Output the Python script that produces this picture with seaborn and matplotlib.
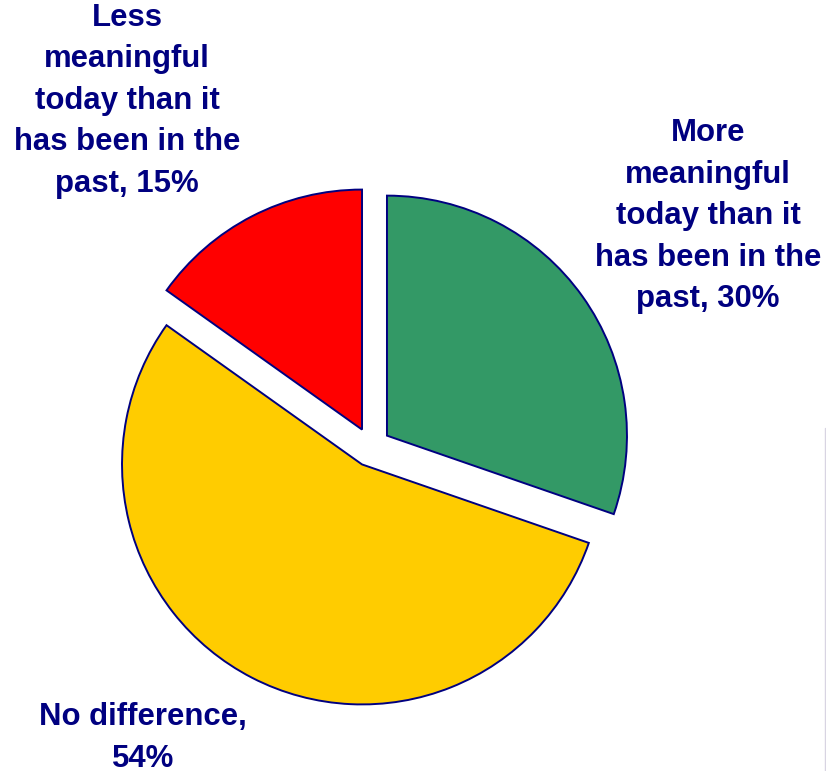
import matplotlib
matplotlib.use("Agg")
import matplotlib.pyplot as plt
import seaborn as sns
from matplotlib.lines import Line2D

sns.set_theme(style="white")
plt.rcParams['font.family'] = ['Liberation Sans', 'DejaVu Sans']

categories = [
    "More\nmeaningful\ntoday than it\nhas been in the\npast, 30%",
    "No difference,\n54%",
    "Less\nmeaningful\ntoday than it\nhas been in the\npast, 15%",
]
values = [30, 54, 15]
colors = ["#339966", "#FFCC00", "#FF0000"]

W, H = 826, 771
fig = plt.figure(figsize=(W / 100, H / 100), dpi=100)
ax = fig.add_axes([0, 0, 1, 1])

ax.pie(values, colors=colors, startangle=90, counterclock=False,
       center=(371, H - 447), radius=240, explode=[19.6] * 3,
       wedgeprops=dict(edgecolor="#000080", linewidth=1.4))
ax.set_xlim(0, W)
ax.set_ylim(0, H)
ax.set_aspect('equal')
ax.axis('off')

label_pos = [(708, H - 216), (143, H - 738), (127, H - 101)]
for txt, (x, y) in zip(categories, label_pos):
    ax.text(x, y, txt, ha='center', va='center', fontsize=22.4,
            fontweight='bold', color='#000080', linespacing=1.5)

fig.add_artist(Line2D([825 / W, 825 / W], [1 - 428 / H, 0], transform=fig.transFigure,
                      color='#d8d4e2', linewidth=1))

fig.savefig("out.png", dpi=100)
